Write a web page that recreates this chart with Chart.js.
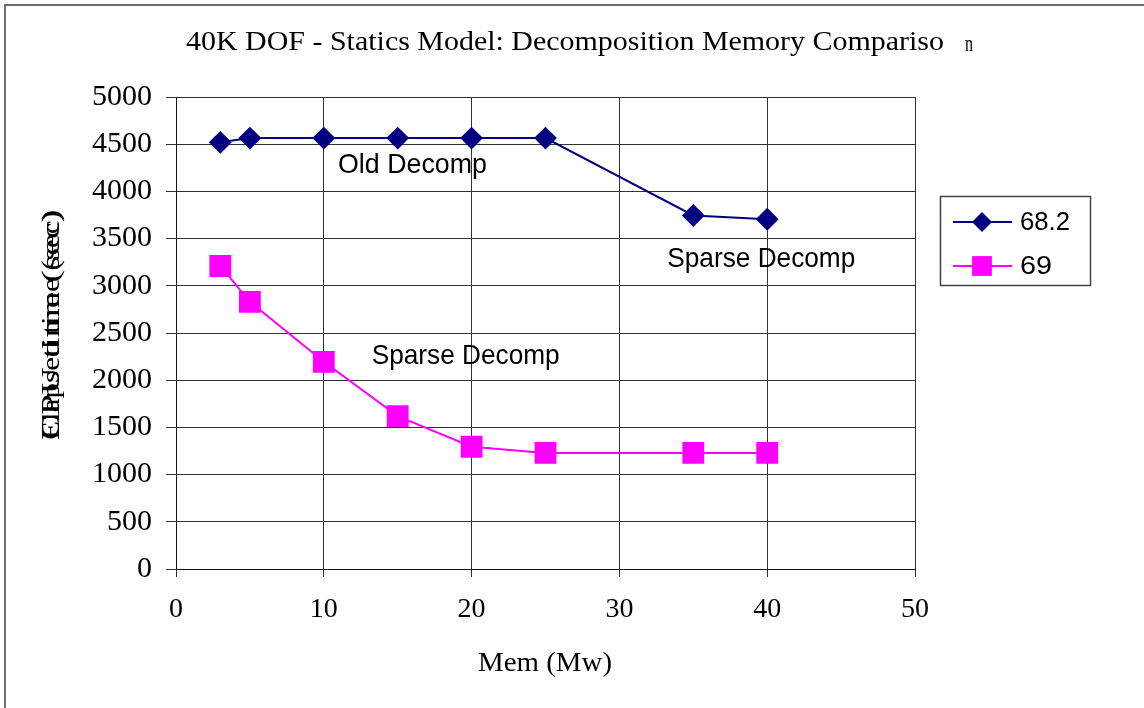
<!DOCTYPE html>
<html>
<head>
<meta charset="utf-8">
<script src="https://cdn.jsdelivr.net/npm/chart.js@4/dist/chart.umd.min.js"></script>
<style>
  html, body { margin: 0; padding: 0; background: #fff; }
  #wrap { width: 1144px; height: 708px; position: relative; }
</style>
</head>
<body>
<div id="wrap"><canvas id="c" width="1144" height="708"></canvas></div>
<script>
// Memory (Mw) given to the decomposition
const memMw = [3, 5, 10, 15, 20, 25, 35, 40];
// Time (sec) for each solver version
const series682 = [4520, 4565, 4565, 4565, 4565, 4565, 3745, 3705];
const series69 = [3210, 2830, 2195, 1620, 1295, 1230, 1230, 1230];
const seriesNames = ['68.2', '69'];
const xTicks = [0, 10, 20, 30, 40, 50];
const yTicks = [0, 500, 1000, 1500, 2000, 2500, 3000, 3500, 4000, 4500, 5000];

const titleText = '40K DOF - Statics Model: Decomposition Memory Compariso';
const titleTail = 'n';
const xTitle = 'Mem (Mw)';
const yTitles = ['CPU time (sec)', 'Elapsed time (sec)'];

// Text notes placed in data units (Mw, sec)
const notes = [
  { text: 'Old Decomp', x: 16.0, y: 4280 },
  { text: 'Sparse Decomp', x: 39.6, y: 3285 },
  { text: 'Sparse Decomp', x: 19.6, y: 2255 }
];

const NAVY = '#000080';
const MAGENTA = '#ff00ff';
const SERIF = '"Liberation Serif", "Times New Roman", serif';
const SANS = '"Liberation Sans", Arial, sans-serif';

// Draws text squeezed or stretched horizontally to a given width
function drawFit(ctx, text, cx, cy, width, font, align) {
  ctx.save();
  ctx.font = font;
  const w = ctx.measureText(text).width;
  const sx = width / w;
  ctx.translate(cx, cy);
  ctx.scale(sx, 1);
  ctx.textBaseline = 'middle';
  ctx.textAlign = align || 'center';
  ctx.fillText(text, 0, 0);
  ctx.restore();
}

function drawMarker(ctx, style, x, y, r, color) {
  ctx.save();
  ctx.fillStyle = color;
  ctx.beginPath();
  if (style === 'rectRot') {
    ctx.moveTo(x, y - r); ctx.lineTo(x + r, y); ctx.lineTo(x, y + r); ctx.lineTo(x - r, y);
  } else {
    const s = r * Math.SQRT1_2;
    ctx.rect(x - s, y - s, 2 * s, 2 * s);
  }
  ctx.closePath();
  ctx.fill();
  ctx.restore();
}

const decor = {
  id: 'decor',
  afterDraw(chart) {
    const ctx = chart.ctx;
    const xs = chart.scales.x, ys = chart.scales.y;
    ctx.save();
    ctx.fillStyle = '#000';

    // frame edges
    ctx.strokeStyle = '#6e6e6e';
    ctx.lineWidth = 2;
    ctx.beginPath();
    ctx.moveTo(5, 708); ctx.lineTo(5, 5); ctx.lineTo(1144, 5);
    ctx.stroke();

    // title
    drawFit(ctx, titleText, 186, 43, 758, '28px ' + SERIF, 'left');
    drawFit(ctx, titleTail, 965, 45, 8, '24px ' + SERIF, 'left');

    // axis titles
    drawFit(ctx, xTitle, 545, 664, 134, '28px ' + SERIF, 'center');
    ctx.save();
    ctx.translate(52, 325);
    ctx.rotate(-Math.PI / 2);
    yTitles.forEach(t => drawFit(ctx, t, 0, 0, 230, '26px ' + SERIF, 'center'));
    ctx.restore();

    // notes
    notes.forEach(n => {
      const w = n.text === 'Old Decomp' ? 149 : 188;
      drawFit(ctx, n.text, xs.getPixelForValue(n.x), ys.getPixelForValue(n.y), w, '28px ' + SANS, 'center');
    });

    // legend
    ctx.strokeStyle = '#444';
    ctx.lineWidth = 1.5;
    ctx.strokeRect(940.5, 196.5, 150, 89);
    const rows = [222, 266];
    chart.data.datasets.forEach((ds, i) => {
      const y = rows[i];
      ctx.strokeStyle = ds.borderColor;
      ctx.lineWidth = 2;
      ctx.beginPath();
      ctx.moveTo(953, y); ctx.lineTo(1012, y);
      ctx.stroke();
      drawMarker(ctx, ds.pointStyle, 982, y, ds.pointRadius, ds.backgroundColor);
      ctx.fillStyle = '#000';
      drawFit(ctx, ds.label, 1020, y + 1, ds.label.length > 2 ? 50 : 32, '25px ' + SANS, 'left');
    });
    ctx.restore();
  }
};

new Chart(document.getElementById('c'), {
  type: 'line',
  data: {
    datasets: [
      {
        label: seriesNames[0],
        data: memMw.map((m, i) => ({ x: m, y: series682[i] })),
        borderColor: NAVY,
        backgroundColor: NAVY,
        borderWidth: 2,
        pointStyle: 'rectRot',
        pointRadius: 10,
        pointHoverRadius: 10,
        tension: 0
      },
      {
        label: seriesNames[1],
        data: memMw.map((m, i) => ({ x: m, y: series69[i] })),
        borderColor: MAGENTA,
        backgroundColor: MAGENTA,
        borderWidth: 2,
        pointStyle: 'rect',
        pointRadius: 14,
        pointHoverRadius: 14,
        tension: 0
      }
    ]
  },
  options: {
    responsive: false,
    animation: false,
    events: [],
    layout: { padding: { left: 0, top: 97, right: 229, bottom: 0 } },
    plugins: { legend: { display: false }, title: { display: false }, tooltip: { enabled: false } },
    scales: {
      x: {
        type: 'linear',
        min: 0, max: 50,
        afterBuildTicks(scale) { scale.ticks = xTicks.map(v => ({ value: v })); },
        afterFit(scale) { scale.height = 139; },
        ticks: { color: '#000', font: { family: SERIF, size: 28 }, padding: 16, maxRotation: 0,
                 callback: v => String(v) },
        grid: { color: '#333', lineWidth: 1, tickLength: 8, drawTicks: true },
        border: { color: '#111', width: 1 }
      },
      y: {
        type: 'linear',
        min: 0, max: 5000,
        afterBuildTicks(scale) { scale.ticks = yTicks.map(v => ({ value: v })); },
        afterFit(scale) { scale.width = 176; },
        ticks: { color: '#000', font: { family: SERIF, size: 30 }, padding: 14,
                 callback: v => String(v) },
        grid: { color: '#333', lineWidth: 1, tickLength: 10, drawTicks: true },
        border: { color: '#111', width: 1 }
      }
    }
  },
  plugins: [decor]
});
</script>
</body>
</html>
